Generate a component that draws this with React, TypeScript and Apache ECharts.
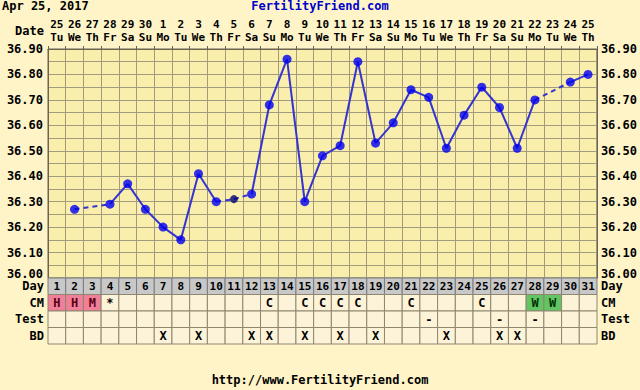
import React, { useEffect, useRef } from 'react';
import * as echarts from 'echarts';

const dates = ['25','26','27','28','29','30','1','2','3','4','5','6','7','8','9','10','11','12','13','14','15','16','17','18','19','20','21','22','23','24','25'];
const weekdays = ['Tu','We','Th','Fr','Sa','Su','Mo','Tu','We','Th','Fr','Sa','Su','Mo','Tu','We','Th','Fr','Sa','Su','Mo','Tu','We','Th','Fr','Sa','Su','Mo','Tu','We','Th'];
const cycleDays = ['1','2','3','4','5','6','7','8','9','10','11','12','13','14','15','16','17','18','19','20','21','22','23','24','25','26','27','28','29','30','31'];
const temps: (number | null)[] = [null,36.27,null,36.29,36.37,36.27,36.20,36.15,36.41,36.30,36.31,36.33,36.68,36.86,36.30,36.48,36.52,36.85,36.53,36.61,36.74,36.71,36.51,36.64,36.75,36.67,36.51,36.70,null,36.77,36.80];
const excludedDays = [11];
const cmCodes = ['H','H','M','*','','','','','','','','','C','','C','C','C','C','','','C','','','','C','','','W','W','',''];
const testCodes = ['','','','','','','','','','','','','','','','','','','','','','-','','','','-','','-','','',''];
const bdCodes = ['','','','','','','X','','X','','','X','X','','X','','X','','X','','','','X','','','X','X','','','',''];
const rowLabels = ['Day','CM','Test','BD'];

const FONT = '"DejaVu Sans Mono", monospace';

export default function App() {
  const ref = useRef<HTMLDivElement>(null);
  useEffect(() => {
    const chart = echarts.init(ref.current!, null, { renderer: 'svg' });
    const gridColor = '#A39B7E';
    const labelStyle = { color: '#000', fontFamily: FONT, fontWeight: 'bold' as const, fontSize: 12 };

    const pts: [number, number][] = [];
    temps.forEach((v, i) => { if (v != null) pts.push([i, v]); });
    const isExcl = (i: number) => excludedDays.includes(i + 1);
    const lineSeries: any[] = [];
    for (let k = 0; k < pts.length - 1; k++) {
      const a = pts[k], b = pts[k + 1];
      const dashed = b[0] - a[0] > 1 || isExcl(a[0]) || isExcl(b[0]);
      lineSeries.push({
        type: 'line', xAxisIndex: 0, yAxisIndex: 0, data: [a, b], symbol: 'none', silent: true,
        lineStyle: { color: '#3434D0', width: 2, type: dashed ? [5, 4] : 'solid' },
        z: 3,
      });
    }
    const scatterData = pts.map(p => ({
      value: p,
      itemStyle: { color: isExcl(p[0]) ? '#000070' : '#0000F0' },
      symbolSize: isExcl(p[0]) ? 8 : 9,
    }));

    const tableData: any[] = [];
    cycleDays.forEach((d, i) => {
      tableData.push([i, 0, d]);
      tableData.push([i, 1, cmCodes[i]]);
      tableData.push([i, 2, testCodes[i]]);
      tableData.push([i, 3, bdCodes[i]]);
    });

    const yFmt = (v: number) => (Math.abs(v - 36.0) < 1e-6 ? `{lo|${v.toFixed(2)}}` : v.toFixed(2));
    const yRich = { lo: { ...labelStyle, padding: [0, 0, 9, 0] } };

    const option: any = {
      animation: false,
      backgroundColor: '#FEF4C8',
      grid: [
        { left: 48, right: 43, top: 49, height: 229, show: true, backgroundColor: '#FAEEAC', borderColor: '#6A6450', borderWidth: 1 },
        { left: 48, right: 43, top: 278, height: 66 },
      ],
      xAxis: [
        {
          type: 'category', gridIndex: 0, position: 'top', data: dates, boundaryGap: true,
          axisLine: { show: true, lineStyle: { color: '#6A6450' } },
          axisTick: { show: true, length: 3, lineStyle: { color: '#6A6450' } },
          axisLabel: {
            ...labelStyle, fontSize: 11, interval: 0, margin: 5, lineHeight: 13,
            formatter: (v: string, idx: number) => `${dates[idx]}\n${weekdays[idx]}`,
          },
          splitLine: { show: true, interval: 0, lineStyle: { color: gridColor, width: 1 } },
        },
        {
          type: 'category', gridIndex: 1, data: cycleDays, boundaryGap: true,
          axisLine: { show: false }, axisTick: { show: false }, axisLabel: { show: false }, splitLine: { show: false },
        },
      ],
      yAxis: [
        {
          type: 'value', gridIndex: 0, min: 36.0, max: 36.9, interval: 0.1,
          axisLine: { show: true, lineStyle: { color: '#6A6450' } },
          axisTick: { show: false },
          axisLabel: { ...labelStyle, margin: 5, formatter: yFmt, rich: yRich },
          splitLine: { show: true, lineStyle: { color: gridColor, width: 1 } },
          minorTick: { show: false, splitNumber: 2 },
          minorSplitLine: { show: true, lineStyle: { color: gridColor, width: 1 } },
        },
        {
          type: 'value', gridIndex: 0, position: 'right', min: 36.0, max: 36.9, interval: 0.1,
          axisLine: { show: true, lineStyle: { color: '#6A6450' } },
          axisTick: { show: false },
          axisLabel: { ...labelStyle, margin: 4, formatter: yFmt, rich: yRich },
          splitLine: { show: false },
        },
        {
          type: 'category', gridIndex: 1, data: rowLabels, inverse: true,
          axisLine: { show: false }, axisTick: { show: false },
          axisLabel: { ...labelStyle, margin: 4 }, splitLine: { show: false },
        },
        {
          type: 'category', gridIndex: 1, data: rowLabels, inverse: true, position: 'right',
          axisLine: { show: false }, axisTick: { show: false },
          axisLabel: { ...labelStyle, margin: 4 }, splitLine: { show: false },
        },
      ],
      series: [
        ...lineSeries,
        {
          type: 'scatter', xAxisIndex: 0, yAxisIndex: 0, data: scatterData, symbol: 'circle', z: 4, silent: true,
        },
        {
          type: 'custom', xAxisIndex: 1, yAxisIndex: 2, data: tableData, silent: true,
          renderItem: (params: any, api: any) => {
            const xi = api.value(0) as number;
            const row = api.value(1) as number;
            const idx = params.dataIndex;
            const text = tableData[idx][2] as string;
            const c = api.coord([xi, row]);
            const s = api.size([1, 1]);
            let fill = '#FDF3D9';
            let textColor = '#000';
            if (row === 0) fill = '#C8C8C8';
            if (row === 1 && (text === 'H' || text === 'M')) { fill = '#F0809A'; textColor = '#5A0014'; }
            if (row === 1 && text === 'W') { fill = '#62C462'; textColor = '#003000'; }
            const stroke = row === 0 ? '#7C7C7C' : '#8E866E';
            return {
              type: 'group',
              children: [
                {
                  type: 'rect',
                  shape: { x: c[0] - s[0] / 2, y: c[1] - s[1] / 2, width: s[0], height: s[1] },
                  style: { fill, stroke, lineWidth: 1 },
                },
                {
                  type: 'text', x: c[0], y: c[1] + 0.5,
                  style: {
                    text, fill: textColor, fontFamily: FONT, fontWeight: 'bold', fontSize: row === 0 ? 11 : 12,
                    align: 'center', verticalAlign: 'middle', textAlign: 'center', textVerticalAlign: 'middle',
                  },
                },
              ],
            };
          },
        },
      ],
      graphic: [
        { type: 'text', left: 2, top: 0, style: { text: 'Apr 25, 2017', fill: '#000', fontFamily: FONT, fontWeight: 'bold', fontSize: 12 } },
        { type: 'text', left: 'center', top: 0, style: { text: 'FertilityFriend.com', fill: '#0000CC', fontFamily: FONT, fontWeight: 'bold', fontSize: 12 } },
        { type: 'text', right: 596, top: 25, style: { text: 'Date', fill: '#000', fontFamily: FONT, fontWeight: 'bold', fontSize: 12 } },
        { type: 'text', left: 'center', top: 374, style: { text: 'http://www.FertilityFriend.com', fill: '#000', fontFamily: FONT, fontWeight: 'bold', fontSize: 12 } },
      ],
    };
    chart.setOption(option);
    return () => chart.dispose();
  }, []);
  return <div ref={ref} style={{ position: 'absolute', left: 0, top: 0, width: 640, height: 390 }} />;
}
